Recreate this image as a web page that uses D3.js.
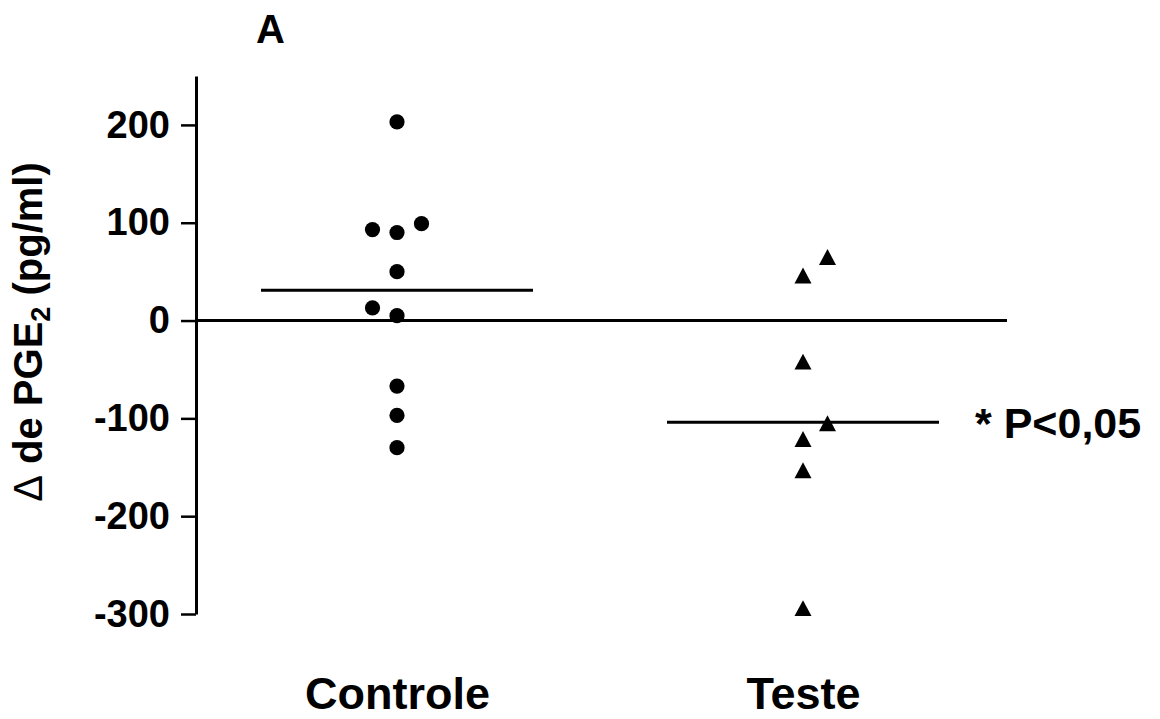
<!DOCTYPE html>
<html>
<head>
<meta charset="utf-8">
<script src="https://cdn.jsdelivr.net/npm/d3@7"></script>
<style>
  body { margin: 0; background: #fff; }
  svg text { font-family: "Liberation Sans", Arial, sans-serif; font-weight: bold; fill: #000; }
</style>
</head>
<body>
<svg width="1160" height="719"></svg>
<script>
const svg = d3.select('svg');

// groups and values
const groups = ['Controle', 'Teste'];
const controleValues = [203, 93, 90, 99, 50, 13, 5, -67, -97, -130];
const controleCols   = [0, -1, 0, 1, 0, -1, 0, 0, 0, 0];   // side-by-side slot of each point
const testeValues = [46, 65, -42, -105, -121, -153, -294];
const testeCols   = [0, 1, 0, 1, 0, 0, 0];
const means = [31, -104];
const yTicks = [-300, -200, -100, 0, 100, 200];

const data = [];
controleValues.forEach((v, i) => data.push({group: 'Controle', value: v, col: controleCols[i]}));
testeValues.forEach((v, i) => data.push({group: 'Teste', value: v, col: testeCols[i]}));

const axisX = 196;
const xScale = d3.scalePoint().domain(groups).range([397, 803]);
const yScale = d3.scaleLinear().domain([-300, 250]).range([614, 76]);
const colStep = 24.5;
const meanHalf = 136;

/* y axis */
const yAxis = d3.axisLeft(yScale)
  .tickValues(yTicks)
  .tickSize(15)
  .tickSizeOuter(0)
  .tickPadding(11)
  .tickFormat(d => String(d));   // plain hyphen, not unicode minus

const gy = svg.append('g')
  .attr('transform', `translate(${axisX},0)`)
  .call(yAxis);
gy.select('.domain').attr('stroke', '#000').attr('stroke-width', 3);
gy.selectAll('.tick line').attr('stroke', '#000').attr('stroke-width', 2.5);
gy.selectAll('.tick text')
  .attr('font-size', 38)
  .attr('font-family', '"Liberation Sans", Arial, sans-serif')
  .attr('font-weight', 'bold')
  .attr('fill', '#000');

// zero line
svg.append('line')
  .attr('x1', axisX).attr('x2', 1007)
  .attr('y1', yScale(0)).attr('y2', yScale(0))
  .attr('stroke', '#000').attr('stroke-width', 3);

/* x labels */
const gx = svg.append('g')
  .attr('transform', 'translate(0,675)')
  .call(d3.axisBottom(xScale).tickSize(0).tickPadding(0));
gx.select('.domain').remove();
gx.selectAll('.tick text')
  .attr('dy', '0.76em')
  .attr('font-size', 45)
  .attr('font-family', '"Liberation Sans", Arial, sans-serif')
  .attr('font-weight', 'bold')
  .attr('fill', '#000');

// mean lines
svg.selectAll('.mean').data(groups).enter()
  .append('line')
  .attr('class', 'mean')
  .attr('x1', d => xScale(d) - meanHalf)
  .attr('x2', d => xScale(d) + meanHalf)
  .attr('y1', (d, i) => yScale(means[i]))
  .attr('y2', (d, i) => yScale(means[i]))
  .attr('stroke', '#000').attr('stroke-width', 3);

// triangle centred on its box, like the original markers
const triangle = {
  draw(ctx, size) {
    const w = Math.sqrt(size), h = w * 0.94;
    ctx.moveTo(0, -h / 2);
    ctx.lineTo(w / 2, h / 2);
    ctx.lineTo(-w / 2, h / 2);
    ctx.closePath();
  }
};

svg.selectAll('circle').data(data.filter(d => d.group === 'Controle')).enter()
  .append('circle')
  .attr('cx', d => xScale(d.group) + d.col * colStep)
  .attr('cy', d => yScale(d.value))
  .attr('r', 7.6)
  .attr('fill', '#000');

svg.selectAll('.tri').data(data.filter(d => d.group === 'Teste')).enter()
  .append('path')
  .attr('class', 'tri')
  .attr('d', d3.symbol().type(triangle).size(17 * 17))
  .attr('transform', d => `translate(${xScale(d.group) + d.col * colStep},${yScale(d.value)})`)
  .attr('fill', '#000');

/* texts */
svg.append('text')
  .attr('x', 270.5).attr('y', 43)
  .attr('text-anchor', 'middle')
  .attr('font-size', 40)
  .text('A');

svg.append('text')
  .attr('x', 975).attr('y', 438)
  .attr('font-size', 43)
  .text('* P<0,05');

const yl = svg.append('text')
  .attr('transform', 'translate(42,332) rotate(-90)')
  .attr('text-anchor', 'middle')
  .attr('font-size', 40);
yl.append('tspan').attr('font-weight', 'normal').text('Δ');
yl.append('tspan').text(' de PGE');
yl.append('tspan').attr('font-size', 27).attr('dy', 8).text('2');
yl.append('tspan').attr('dy', -8).text(' (pg/ml)');
</script>
</body>
</html>
